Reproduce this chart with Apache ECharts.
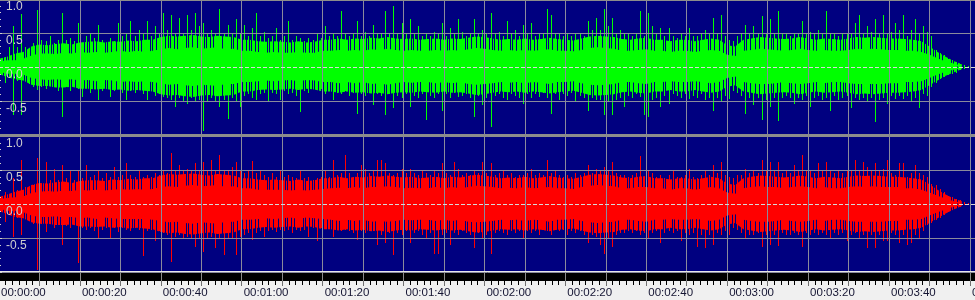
<!DOCTYPE html>
<html><head><meta charset="utf-8">
<script src="https://cdn.jsdelivr.net/npm/echarts@6/dist/echarts.min.js"></script>
<style>html,body{margin:0;padding:0;background:#f0f0f0;overflow:hidden}#c{width:975px;height:300px}</style>
</head><body><div id="c"></div>
<script>
// Time axis: seconds; labels every 20 s
const timeTicks = [0,20,40,60,80,100,120,140,160,180,200,220,240];
const yTicks = [-1, -0.5, 0, 0.5, 1];

// Per-second peak amplitude (bin i covers second i..i+1)
const greenPeakHi = [0.12,0.15,0.3,0.6,0.3,0.78,0.3,0.28,0.35,0.84,
0.4,0.38,0.45,0.35,0.4,0.8,0.4,0.42,0.38,0.65,
0.35,0.45,0.5,0.42,0.62,0.4,0.35,0.42,0.38,0.65,
0.45,0.5,0.67,0.45,0.54,0.48,0.67,0.45,0.6,0.5,
0.8,0.55,0.77,0.5,0.72,0.5,0.77,0.55,0.8,0.6,
0.65,0.5,0.55,0.5,0.85,0.5,0.62,0.5,0.7,0.5,
0.62,0.45,0.57,0.8,0.45,0.52,0.42,0.45,0.57,0.4,
0.45,0.67,0.4,0.45,0.43,0.38,0.42,0.4,0.5,0.42,
0.6,0.45,0.5,0.45,0.82,0.48,0.45,0.5,0.67,0.45,
0.52,0.45,0.62,0.5,0.48,0.82,0.5,0.9,0.5,0.65,
0.48,0.7,0.5,0.6,0.45,0.5,0.45,0.52,0.48,0.65,
0.45,0.57,0.48,0.7,0.52,0.45,0.5,0.7,0.48,0.55,
0.5,0.8,0.48,0.52,0.45,0.67,0.48,0.55,0.45,0.62,
0.5,0.65,0.45,0.5,0.48,0.86,0.77,0.5,0.5,0.45,
0.5,0.45,0.48,0.5,0.45,0.67,0.55,0.72,0.55,0.86,
0.6,0.72,0.5,0.55,0.48,0.5,0.45,0.5,0.82,0.45,
0.8,0.6,0.48,0.57,0.45,0.57,0.45,0.43,0.5,0.45,
0.57,0.45,0.45,0.5,0.55,0.48,0.72,0.5,0.77,0.45,
0.4,0.38,0.45,0.5,0.62,0.5,0.6,0.5,0.75,0.5,
0.7,0.5,0.82,0.5,0.5,0.45,0.48,0.5,0.67,0.5,
0.52,0.48,0.55,0.5,0.82,0.5,0.48,0.45,0.48,0.5,
0.5,0.65,0.77,0.5,0.6,0.52,0.7,0.5,0.77,0.5,
0.52,0.65,0.55,0.76,0.45,0.55,0.7,0.5,0.6,0.52,
0.45,0.25,0.2,0.18,0.12,0.1,0.08,0.05,0.03,0.01];
const greenPeakLo = [-0.1,-0.24,-0.15,-0.71,-0.2,-0.71,-0.2,-0.25,-0.3,-0.34,
-0.3,-0.32,-0.28,-0.3,-0.35,-0.74,-0.3,-0.35,-0.3,-0.33,
-0.44,-0.3,-0.38,-0.32,-0.49,-0.35,-0.3,-0.44,-0.35,-0.32,
-0.38,-0.49,-0.35,-0.38,-0.32,-0.4,-0.49,-0.35,-0.42,-0.4,
-0.44,-0.45,-0.48,-0.59,-0.45,-0.5,-0.54,-0.45,-0.5,-0.48,
-0.94,-0.5,-0.45,-0.5,-0.59,-0.48,-0.76,-0.45,-0.5,-0.59,
-0.42,-0.4,-0.45,-0.49,-0.4,-0.38,-0.51,-0.38,-0.4,-0.49,
-0.35,-0.4,-0.38,-0.42,-0.66,-0.35,-0.38,-0.3,-0.34,-0.32,
-0.39,-0.35,-0.49,-0.38,-0.4,-0.35,-0.42,-0.38,-0.69,-0.4,
-0.42,-0.38,-0.56,-0.4,-0.42,-0.71,-0.4,-0.61,-0.42,-0.45,
-0.4,-0.59,-0.42,-0.45,-0.4,-0.78,-0.42,-0.45,-0.4,-0.64,
-0.4,-0.45,-0.38,-0.44,-0.42,-0.4,-0.45,-0.74,-0.42,-0.56,
-0.45,-0.88,-0.42,-0.4,-0.45,-0.49,-0.4,-0.42,-0.45,-0.54,
-0.4,-0.45,-0.4,-0.44,-0.38,-0.45,-0.69,-0.4,-0.49,-0.4,
-0.42,-0.38,-0.51,-0.42,-0.45,-0.64,-0.45,-0.48,-0.49,-0.71,
-0.5,-0.71,-0.48,-0.45,-0.59,-0.42,-0.45,-0.4,-0.44,-0.71,
-0.74,-0.49,-0.45,-0.59,-0.42,-0.54,-0.4,-0.42,-0.45,-0.4,
-0.47,-0.42,-0.45,-0.4,-0.49,-0.45,-0.64,-0.45,-0.51,-0.42,
-0.47,-0.35,-0.38,-0.42,-0.69,-0.45,-0.56,-0.45,-0.78,-0.48,
-0.59,-0.45,-0.8,-0.45,-0.42,-0.45,-0.54,-0.45,-0.49,-0.42,
-0.59,-0.45,-0.42,-0.48,-0.45,-0.64,-0.42,-0.49,-0.45,-0.42,
-0.61,-0.45,-0.49,-0.45,-0.5,-0.45,-0.81,-0.48,-0.45,-0.54,
-0.42,-0.47,-0.42,-0.47,-0.42,-0.51,-0.45,-0.61,-0.4,-0.42,
-0.3,-0.24,-0.18,-0.14,-0.12,-0.1,-0.09,-0.05,-0.03,-0.01];
const redPeakHi = [0.1,0.18,0.15,0.38,0.2,0.65,0.25,0.25,0.28,0.68,
0.3,0.62,0.35,0.52,0.35,0.57,0.38,0.48,0.35,0.5,
0.38,0.57,0.4,0.42,0.5,0.38,0.45,0.4,0.55,0.4,
0.42,0.6,0.42,0.4,0.48,0.4,0.43,0.4,0.45,0.42,
0.5,0.45,0.75,0.48,0.57,0.5,0.52,0.48,0.6,0.5,
0.62,0.5,0.65,0.5,0.72,0.5,0.48,0.55,0.62,0.48,
0.45,0.48,0.63,0.45,0.48,0.42,0.4,0.45,0.4,0.5,
0.4,0.42,0.4,0.38,0.5,0.38,0.4,0.35,0.38,0.4,
0.48,0.4,0.65,0.42,0.45,0.72,0.45,0.4,0.45,0.57,
0.52,0.45,0.5,0.65,0.65,0.6,0.45,0.43,0.45,0.52,
0.45,0.52,0.45,0.42,0.5,0.45,0.42,0.5,0.45,0.6,
0.45,0.42,0.62,0.52,0.42,0.45,0.42,0.5,0.45,0.62,
0.45,0.6,0.42,0.45,0.48,0.42,0.45,0.4,0.43,0.42,
0.45,0.52,0.42,0.45,0.42,0.65,0.45,0.5,0.42,0.4,
0.42,0.4,0.45,0.42,0.45,0.57,0.45,0.52,0.48,0.55,
0.5,0.62,0.45,0.42,0.43,0.4,0.42,0.45,0.7,0.33,
0.48,0.45,0.4,0.42,0.38,0.42,0.48,0.4,0.4,0.42,
0.52,0.4,0.38,0.42,0.5,0.42,0.57,0.45,0.62,0.42,
0.4,0.38,0.43,0.42,0.52,0.45,0.48,0.45,0.65,0.5,
0.62,0.48,0.62,0.45,0.48,0.45,0.57,0.5,0.72,0.5,
0.48,0.45,0.6,0.48,0.62,0.48,0.45,0.48,0.45,0.5,
0.48,0.65,0.5,0.62,0.55,0.5,0.6,0.48,0.52,0.65,
0.45,0.43,0.6,0.6,0.4,0.45,0.57,0.45,0.42,0.4,
0.3,0.28,0.22,0.18,0.12,0.1,0.07,0.06,0.03,0.01];
const redPeakLo = [-0.1,-0.26,-0.15,-0.48,-0.2,-0.46,-0.22,-0.25,-0.3,-0.97,
-0.3,-0.41,-0.3,-0.35,-0.3,-0.6,-0.32,-0.35,-0.3,-0.87,
-0.35,-0.38,-0.35,-0.4,-0.5,-0.38,-0.35,-0.5,-0.35,-0.41,
-0.35,-0.38,-0.4,-0.35,-0.38,-0.77,-0.4,-0.38,-0.55,-0.4,
-0.42,-0.45,-0.85,-0.48,-0.45,-0.5,-0.48,-0.5,-0.63,-0.5,
-0.7,-0.5,-0.48,-0.65,-0.5,-0.75,-0.5,-0.52,-0.75,-0.48,
-0.45,-0.42,-0.53,-0.42,-0.4,-0.48,-0.4,-0.38,-0.41,-0.38,
-0.4,-0.38,-0.43,-0.38,-0.4,-0.38,-0.48,-0.35,-0.55,-0.35,
-0.36,-0.35,-0.48,-0.38,-0.4,-0.38,-0.4,-0.42,-0.53,-0.4,
-0.42,-0.38,-0.4,-0.6,-0.45,-0.58,-0.42,-0.75,-0.42,-0.45,
-0.4,-0.58,-0.42,-0.4,-0.45,-0.5,-0.42,-0.73,-0.73,-0.45,
-0.42,-0.6,-0.42,-0.46,-0.4,-0.42,-0.45,-0.65,-0.42,-0.5,
-0.45,-0.73,-0.42,-0.4,-0.42,-0.46,-0.4,-0.42,-0.4,-0.5,
-0.4,-0.42,-0.4,-0.46,-0.38,-0.4,-0.46,-0.38,-0.4,-0.38,
-0.46,-0.4,-0.42,-0.4,-0.45,-0.58,-0.45,-0.48,-0.6,-0.73,
-0.5,-0.63,-0.45,-0.42,-0.43,-0.4,-0.42,-0.4,-0.46,-0.42,
-0.5,-0.42,-0.4,-0.58,-0.42,-0.4,-0.43,-0.4,-0.55,-0.42,
-0.45,-0.42,-0.63,-0.45,-0.65,-0.45,-0.6,-0.42,-0.46,-0.4,
-0.46,-0.35,-0.38,-0.42,-0.5,-0.45,-0.45,-0.42,-0.63,-0.45,
-0.6,-0.45,-0.62,-0.42,-0.45,-0.46,-0.42,-0.45,-0.63,-0.42,
-0.46,-0.42,-0.45,-0.42,-0.45,-0.5,-0.42,-0.46,-0.42,-0.55,
-0.45,-0.42,-0.5,-0.45,-0.65,-0.45,-0.65,-0.45,-0.55,-0.55,
-0.42,-0.45,-0.57,-0.46,-0.6,-0.58,-0.45,-0.5,-0.4,-0.31,
-0.28,-0.24,-0.2,-0.16,-0.12,-0.09,-0.06,-0.04,-0.02,-0.01];

// Dense core envelope, one value every 2 s (t = 0, 2, 4, ... 238)
const greenCoreHi = [0.08,0.1,0.1,0.12,0.17,0.2,0.2,0.19,0.21,0.2,
0.22,0.21,0.22,0.21,0.22,0.24,0.22,0.24,0.22,0.24,
0.26,0.28,0.26,0.28,0.29,0.27,0.28,0.29,0.26,0.27,
0.24,0.24,0.22,0.21,0.22,0.21,0.21,0.22,0.21,0.21,
0.24,0.24,0.25,0.24,0.25,0.24,0.26,0.25,0.27,0.25,
0.24,0.25,0.24,0.24,0.25,0.24,0.25,0.24,0.26,0.28,
0.27,0.25,0.24,0.25,0.24,0.25,0.24,0.25,0.26,0.24,
0.24,0.23,0.25,0.28,0.29,0.28,0.27,0.24,0.24,0.25,
0.26,0.24,0.24,0.22,0.24,0.24,0.22,0.24,0.25,0.24,
0.18,0.16,0.24,0.25,0.27,0.26,0.25,0.24,0.25,0.27,
0.25,0.24,0.25,0.24,0.24,0.25,0.27,0.26,0.27,0.26,
0.25,0.25,0.24,0.24,0.22,0.18,0.13,0.08,0.05,0.02];
const greenCoreLo = [-0.07,-0.1,-0.1,-0.11,-0.16,-0.18,-0.19,-0.18,-0.19,-0.18,
-0.2,-0.19,-0.21,-0.19,-0.2,-0.22,-0.21,-0.22,-0.21,-0.22,
-0.24,-0.26,-0.25,-0.27,-0.28,-0.26,-0.27,-0.28,-0.25,-0.25,
-0.22,-0.22,-0.21,-0.2,-0.21,-0.2,-0.19,-0.21,-0.19,-0.2,
-0.22,-0.22,-0.24,-0.22,-0.24,-0.22,-0.25,-0.24,-0.26,-0.24,
-0.22,-0.23,-0.22,-0.22,-0.24,-0.22,-0.24,-0.22,-0.25,-0.26,
-0.25,-0.24,-0.22,-0.23,-0.22,-0.24,-0.22,-0.23,-0.25,-0.22,
-0.22,-0.21,-0.24,-0.26,-0.27,-0.26,-0.25,-0.22,-0.22,-0.24,
-0.25,-0.22,-0.22,-0.21,-0.22,-0.22,-0.21,-0.22,-0.24,-0.22,
-0.16,-0.14,-0.22,-0.24,-0.25,-0.25,-0.24,-0.22,-0.24,-0.25,
-0.24,-0.22,-0.24,-0.22,-0.22,-0.24,-0.25,-0.25,-0.25,-0.25,
-0.24,-0.24,-0.22,-0.22,-0.21,-0.16,-0.11,-0.07,-0.04,-0.02];
const redCoreHi = [0.07,0.09,0.1,0.11,0.16,0.18,0.19,0.18,0.2,0.19,
0.21,0.2,0.21,0.2,0.21,0.22,0.21,0.22,0.21,0.22,
0.25,0.26,0.25,0.27,0.28,0.26,0.27,0.28,0.25,0.26,
0.23,0.23,0.21,0.21,0.21,0.21,0.2,0.21,0.2,0.21,
0.22,0.23,0.24,0.23,0.25,0.23,0.25,0.25,0.26,0.25,
0.23,0.24,0.23,0.23,0.25,0.23,0.25,0.23,0.25,0.27,
0.26,0.25,0.23,0.24,0.23,0.25,0.23,0.24,0.25,0.23,
0.23,0.22,0.25,0.27,0.28,0.27,0.26,0.23,0.23,0.25,
0.25,0.23,0.23,0.21,0.23,0.23,0.21,0.23,0.25,0.23,
0.17,0.15,0.23,0.25,0.26,0.25,0.25,0.23,0.25,0.26,
0.25,0.23,0.25,0.23,0.23,0.25,0.26,0.25,0.26,0.25,
0.25,0.25,0.23,0.23,0.21,0.17,0.12,0.08,0.04,0.02];
const redCoreLo = [-0.07,-0.1,-0.1,-0.12,-0.17,-0.19,-0.19,-0.18,-0.2,-0.19,
-0.21,-0.2,-0.22,-0.2,-0.21,-0.22,-0.22,-0.22,-0.22,-0.23,
-0.25,-0.27,-0.26,-0.28,-0.29,-0.27,-0.28,-0.29,-0.26,-0.26,
-0.23,-0.23,-0.22,-0.21,-0.22,-0.21,-0.2,-0.22,-0.2,-0.21,
-0.22,-0.23,-0.25,-0.23,-0.25,-0.23,-0.26,-0.25,-0.26,-0.25,
-0.23,-0.24,-0.23,-0.23,-0.25,-0.23,-0.25,-0.23,-0.26,-0.27,
-0.26,-0.25,-0.23,-0.24,-0.23,-0.25,-0.23,-0.24,-0.26,-0.23,
-0.23,-0.22,-0.25,-0.27,-0.28,-0.27,-0.26,-0.23,-0.23,-0.25,
-0.26,-0.23,-0.23,-0.22,-0.23,-0.23,-0.22,-0.23,-0.25,-0.23,
-0.17,-0.15,-0.23,-0.25,-0.26,-0.26,-0.25,-0.23,-0.25,-0.26,
-0.25,-0.23,-0.25,-0.23,-0.23,-0.25,-0.26,-0.26,-0.26,-0.26,
-0.25,-0.25,-0.23,-0.23,-0.22,-0.17,-0.12,-0.08,-0.04,-0.02];

// Outer edge of the busy (densely striped) zone, every 2 s
const greenMidHi = [0.12,0.15,0.2,0.22,0.3,0.33,0.32,0.34,0.35,0.33,
0.36,0.37,0.38,0.36,0.38,0.37,0.39,0.38,0.4,0.4,
0.44,0.46,0.45,0.46,0.47,0.45,0.44,0.46,0.45,0.44,
0.4,0.4,0.38,0.37,0.38,0.37,0.36,0.38,0.36,0.37,
0.4,0.4,0.42,0.4,0.42,0.41,0.43,0.42,0.44,0.42,
0.41,0.42,0.4,0.41,0.42,0.4,0.42,0.41,0.43,0.45,
0.44,0.42,0.4,0.41,0.4,0.42,0.4,0.41,0.43,0.41,
0.4,0.39,0.42,0.45,0.46,0.45,0.44,0.41,0.4,0.42,
0.43,0.4,0.4,0.38,0.4,0.4,0.38,0.4,0.42,0.4,
0.32,0.3,0.4,0.42,0.44,0.43,0.42,0.41,0.42,0.44,
0.42,0.4,0.42,0.41,0.4,0.42,0.44,0.43,0.44,0.43,
0.42,0.42,0.41,0.4,0.38,0.3,0.22,0.15,0.09,0.04];
const greenMidLo = [-0.1,-0.15,-0.18,-0.2,-0.26,-0.28,-0.28,-0.3,-0.3,-0.29,
-0.32,-0.32,-0.33,-0.32,-0.34,-0.33,-0.35,-0.34,-0.35,-0.36,
-0.4,-0.42,-0.41,-0.43,-0.44,-0.42,-0.41,-0.43,-0.42,-0.41,
-0.36,-0.36,-0.34,-0.33,-0.34,-0.33,-0.32,-0.34,-0.32,-0.33,
-0.36,-0.36,-0.38,-0.36,-0.38,-0.37,-0.39,-0.38,-0.4,-0.38,
-0.37,-0.38,-0.36,-0.37,-0.38,-0.36,-0.38,-0.37,-0.39,-0.41,
-0.4,-0.38,-0.36,-0.37,-0.36,-0.38,-0.36,-0.37,-0.39,-0.37,
-0.36,-0.35,-0.38,-0.41,-0.42,-0.41,-0.4,-0.37,-0.36,-0.38,
-0.39,-0.36,-0.36,-0.34,-0.36,-0.36,-0.34,-0.36,-0.38,-0.36,
-0.29,-0.27,-0.36,-0.38,-0.4,-0.39,-0.38,-0.37,-0.38,-0.4,
-0.38,-0.36,-0.38,-0.37,-0.36,-0.38,-0.4,-0.39,-0.4,-0.39,
-0.38,-0.38,-0.37,-0.36,-0.34,-0.27,-0.2,-0.13,-0.08,-0.03];
const redMidHi = [0.1,0.14,0.18,0.21,0.28,0.31,0.3,0.32,0.33,0.31,
0.34,0.35,0.35,0.34,0.36,0.35,0.37,0.36,0.38,0.38,
0.42,0.44,0.43,0.44,0.45,0.43,0.42,0.44,0.43,0.42,
0.38,0.38,0.36,0.35,0.36,0.35,0.34,0.36,0.34,0.35,
0.38,0.38,0.4,0.38,0.4,0.39,0.41,0.4,0.42,0.4,
0.39,0.4,0.38,0.39,0.4,0.38,0.4,0.39,0.41,0.43,
0.42,0.4,0.38,0.39,0.38,0.4,0.38,0.39,0.41,0.39,
0.38,0.37,0.4,0.43,0.44,0.43,0.42,0.39,0.38,0.4,
0.41,0.38,0.38,0.36,0.38,0.38,0.36,0.38,0.4,0.38,
0.3,0.28,0.38,0.4,0.42,0.41,0.4,0.39,0.4,0.42,
0.4,0.38,0.4,0.39,0.38,0.4,0.42,0.41,0.42,0.41,
0.4,0.4,0.39,0.38,0.36,0.29,0.21,0.14,0.08,0.04];
const redMidLo = [-0.1,-0.15,-0.19,-0.21,-0.27,-0.29,-0.29,-0.31,-0.31,-0.3,
-0.33,-0.33,-0.34,-0.33,-0.35,-0.34,-0.36,-0.35,-0.36,-0.37,
-0.41,-0.43,-0.42,-0.44,-0.45,-0.43,-0.42,-0.44,-0.43,-0.42,
-0.37,-0.37,-0.35,-0.34,-0.35,-0.34,-0.33,-0.35,-0.33,-0.34,
-0.37,-0.37,-0.39,-0.37,-0.39,-0.38,-0.4,-0.39,-0.41,-0.39,
-0.38,-0.39,-0.37,-0.38,-0.39,-0.37,-0.39,-0.38,-0.4,-0.42,
-0.41,-0.39,-0.37,-0.38,-0.37,-0.39,-0.37,-0.38,-0.4,-0.38,
-0.37,-0.36,-0.39,-0.42,-0.43,-0.42,-0.41,-0.38,-0.37,-0.39,
-0.4,-0.37,-0.37,-0.35,-0.37,-0.37,-0.35,-0.37,-0.39,-0.37,
-0.3,-0.28,-0.37,-0.39,-0.41,-0.4,-0.39,-0.38,-0.39,-0.41,
-0.39,-0.37,-0.39,-0.38,-0.37,-0.39,-0.41,-0.4,-0.41,-0.4,
-0.39,-0.39,-0.38,-0.37,-0.35,-0.28,-0.21,-0.14,-0.08,-0.03];

const GREEN = '#00ff00', RED = '#ff0000', NAVY = '#000080', GRIDC = '#8a8a9c';
const envPts = arr => arr.map((v, i) => [i * 2, v]);
const peakItems = (hi, lo) => hi.map((v, i) => [i + 0.5, v, lo[i]]);
const pad = n => (n < 10 ? '0' : '') + n;
const fmtTime = v => pad(Math.floor(v / 3600)) + ':' + pad(Math.floor(v / 60) % 60) + ':' + pad(v % 60);

// vertical-stripe texture for the busy zone (style only)
function stripePattern(color) {
  const cv = document.createElement('canvas');
  cv.width = 9; cv.height = 2;
  const ctx = cv.getContext('2d');
  ctx.fillStyle = color;
  [0, 1, 2, 4, 5, 7].forEach(x => ctx.fillRect(x, 0, 1, 2));
  return {image: cv, repeat: 'repeat'};
}

const chart = echarts.init(document.getElementById('c'), null, {renderer: 'canvas'});

function panelX(gi) {
  return {
    type: 'value', gridIndex: gi, min: 0, max: 242, interval: 10, z: 6,
    axisLine: {show: false}, axisTick: {show: false}, axisLabel: {show: false},
    splitLine: {show: true, lineStyle: {color: GRIDC, width: 1}}
  };
}
function panelY(gi) {
  return {
    type: 'value', gridIndex: gi, min: yTicks[0], max: yTicks[yTicks.length - 1], interval: 0.5, z: 6,
    axisLine: {show: false},
    axisTick: {show: true, inside: true, length: 3, lineStyle: {color: '#d0d0d0'}},
    minorTick: {show: true, splitNumber: 5, length: 2, lineStyle: {color: '#d0d0d0'}},
    axisLabel: {show: true, inside: true, margin: 7, verticalAlign: 'top', color: '#cfcfcf',
      fontFamily: 'Liberation Sans', fontSize: 12, padding: [2, 0, 0, 0],
      formatter: v => (v <= -1 ? '' : v.toFixed(1))},
    splitLine: {show: true, lineStyle: {color: [GRIDC, GRIDC, 'rgba(0,0,0,0)', GRIDC, GRIDC]}}
  };
}
function area(gi, fill, arr, z) {
  return {type: 'line', xAxisIndex: gi, yAxisIndex: gi, silent: true, data: envPts(arr), symbol: 'none',
    lineStyle: {width: 0}, areaStyle: {color: fill, opacity: 1}, z: z};
}
function peaks(gi, color, hi, lo) {
  return {
    type: 'custom', xAxisIndex: gi, yAxisIndex: gi, silent: true, z: 3,
    data: peakItems(hi, lo),
    renderItem: (params, api) => {
      const top = api.coord([api.value(0), api.value(1)]);
      const bot = api.coord([api.value(0), api.value(2)]);
      const x = Math.round(top[0]) + 0.5;
      return {type: 'line', shape: {x1: x, y1: Math.round(top[1]), x2: x, y2: Math.round(bot[1])},
        style: {stroke: color, lineWidth: 1}};
    },
    markLine: {silent: true, symbol: 'none', label: {show: false}, z: 7,
      lineStyle: {color: '#d8d8d8', type: [4, 2], width: 1}, data: [{yAxis: 0}]}
  };
}
function channel(gi, color, mHi, mLo, cHi, cLo, pHi, pLo) {
  const pat = stripePattern(color);
  return [
    area(gi, pat, mHi, 1), area(gi, pat, mLo, 1),
    area(gi, color, cHi, 2), area(gi, color, cLo, 2),
    peaks(gi, color, pHi, pLo)
  ];
}

const gridBase = {left: -1, width: 979, show: true, borderWidth: 0, outerBoundsMode: 'none', containLabel: false};
chart.setOption({
  animation: false,
  backgroundColor: '#f0f0f0',
  grid: [
    Object.assign({top: -1, height: 136, backgroundColor: NAVY}, gridBase),
    Object.assign({top: 136, height: 136, backgroundColor: NAVY}, gridBase),
    Object.assign({top: 272, height: 9, backgroundColor: '#000000'}, gridBase)
  ],
  xAxis: [
    panelX(0), panelX(1),
    {type: 'value', gridIndex: 2, min: 0, max: 242, interval: 10, z: 6,
      axisLine: {show: false},
      axisTick: {show: true, length: 5, lineStyle: {color: '#707070'}},
      minorTick: {show: true, splitNumber: 6, length: 4, lineStyle: {color: '#000000'}},
      splitLine: {show: true, lineStyle: {color: '#8c8c8c'}},
      axisLabel: {show: true, align: 'left', margin: 6, padding: [0, 0, 0, 2], color: '#141432',
        fontFamily: 'Liberation Sans', fontSize: 11.5, hideOverlap: false,
        formatter: v => (timeTicks.indexOf(v) >= 0 ? fmtTime(v) : '')}}
  ],
  yAxis: [
    panelY(0), panelY(1),
    {type: 'value', gridIndex: 2, min: 0, max: 1, show: false}
  ],
  graphic: [
    {type: 'rect', shape: {x: 0, y: 0, width: 975, height: 1}, style: {fill: '#8c8c8c'}, z: 100, silent: true},
    {type: 'rect', shape: {x: 0, y: 134, width: 975, height: 3}, style: {fill: '#8c8c8c'}, z: 100, silent: true},
    {type: 'rect', shape: {x: 0, y: 271, width: 975, height: 1}, style: {fill: '#e8e8e8'}, z: 100, silent: true}
  ],
  series: [].concat(
    channel(0, GREEN, greenMidHi, greenMidLo, greenCoreHi, greenCoreLo, greenPeakHi, greenPeakLo),
    channel(1, RED, redMidHi, redMidLo, redCoreHi, redCoreLo, redPeakHi, redPeakLo)
  )
});
</script></body></html>
